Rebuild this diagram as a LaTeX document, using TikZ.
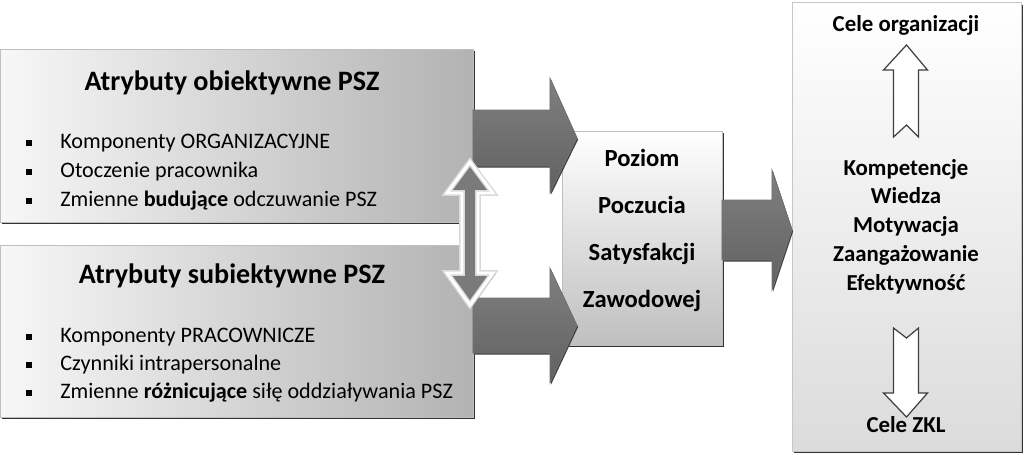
\documentclass[tikz,border=0pt]{standalone}
\usepackage{fontspec}
\setmainfont{Carlito}
\usetikzlibrary{calc,shadows}

\tikzset{
	boxshadow/.style={drop shadow={shadow xshift=0.9pt,shadow yshift=-1.4pt,fill=black!80,opacity=1}},
	attrbox/.style={draw=gray!50,rectangle,left color=gray!6,right color=gray!60,minimum width=9.46cm,outer sep=0cm,boxshadow},
	attrtitle/.style={anchor=base,inner sep=0pt,font=\bfseries\fontsize{16}{19}\selectfont},
	attritem/.style={anchor=base west,inner sep=0pt,font=\fontsize{12.6}{15}\selectfont},
	bulletsq/.style={fill=black,inner sep=0pt,minimum size=0.12cm},
	boldtext/.style={anchor=base,inner sep=0pt,font=\bfseries\fontsize{13}{16}\selectfont},
	fatarrow/.style={draw=black!55,top color=black!50,middle color=black!43,bottom color=black!62,drop shadow={shadow xshift=0.6pt,shadow yshift=-0.9pt,fill=black!75,opacity=1}},
	hollowarrow/.style={draw=black!75,fill=white,line width=0.7pt,line join=miter}
}

\begin{document}
\begin{tikzpicture}[x=0.02cm,y=-0.02cm]

	\useasboundingbox[fill=white] (0,0) rectangle (1024,454);

	% boxes
	\node[attrbox,minimum height=3.46cm] (obj)  at (236.5,135.5) {};
	\node[attrbox,minimum height=3.44cm] (subj) at (236.5,331)   {};
	\node[draw=gray!50,top color=white,bottom color=gray!50,minimum width=3.2cm,minimum height=4.28cm,outer sep=0cm,boxshadow] (poziom) at (642,238) {};
	\node[draw=gray!45,top color=white,bottom color=gray!28,minimum width=4.58cm,minimum height=8.98cm,outer sep=0cm,boxshadow] (cele) at (906.5,226.5) {};

	% texts of the left boxes
	\node[attrtitle] (objtitle)  at (232,90)  {Atrybuty obiektywne PSZ};
	\node[attrtitle] (subjtitle) at (232,283) {Atrybuty subiektywne PSZ};

	\node[attritem] (obj1) at (60,148) {Komponenty ORGANIZACYJNE};
	\node[attritem] (obj2) at (60,177) {Otoczenie pracownika};
	\node[attritem] (obj3) at (60,206) {Zmienne \textbf{budujące} odczuwanie PSZ};
	\node[attritem] (subj1) at (60,342) {Komponenty PRACOWNICZE};
	\node[attritem] (subj2) at (60,370) {Czynniki intrapersonalne};
	\node[attritem] (subj3) at (60,398) {Zmienne \textbf{różnicujące} siłę oddziaływania PSZ};

	\foreach \y in {143,172,201,337,365,393}
		\node[bulletsq] at (29,\y) {};

	% texts of the middle box
	\foreach \t [count=\i] in {Poziom,Poczucia,Satysfakcji,Zawodowej}
		\node[boldtext,font=\bfseries\fontsize{14}{16}\selectfont] (poz\i) at (642,{166+47*(\i-1)}) {\t};

	% texts of the right box
	\node[boldtext] (celeorg) at (906,31) {Cele organizacji};
	\foreach \t [count=\i] in {Kompetencje,Wiedza,Motywacja,Zaangażowanie,Efektywność}
		\node[boldtext] (kom\i) at (906,{175+28.75*(\i-1)}) {\t};
	\node[boldtext] (celezkl) at (906,432) {Cele ZKL};

	% fat arrows into the middle box and out of it
	\path[fatarrow] ($(obj.east)+(0,-25.5)$) -- ++(77,0) -- ++(0,-32) -- ($(poziom.west)+(15,-100)$)
		-- ++(-27,55) -- ++(0,-27) -- ($(obj.east)+(0,30.5)$) -- cycle;
	\path[fatarrow] ($(subj.east)+(0,-33)$) -- ++(77,0) -- ++(0,-30) -- ($(poziom.west)+(15,87.5)$)
		-- ++(-27,57.5) -- ++(0,-30) -- ($(subj.east)+(0,22)$) -- cycle;
	\path[fatarrow] ($(poziom.east)+(0,-38)$) -- ++(50,0) -- ++(0,-30) -- ($(cele.west)+(0,3.5)$)
		-- ++(-20,60) -- ++(0,-30) -- ($(poziom.east)+(0,22)$) -- cycle;

	% hollow arrows in the right box
	\draw[hollowarrow] (cele.center |- 0,45) -- ++(21,25) -- ++(-9,0) -- ++(0,67) -- ++(-12,-12)
		-- ++(-13,12) -- ++(0,-67) -- ++(-10,0) -- cycle;
	\draw[hollowarrow] (cele.center |- 0,417) -- ++(21,-24) -- ++(-9,0) -- ++(0,-65) -- ++(-12,10)
		-- ++(-13,-10) -- ++(0,65) -- ++(-10,0) -- cycle;

	% double arrow between the left boxes
	\path[draw=gray!30,line width=3.2pt,fill=black!52,drop shadow={shadow xshift=1.6pt,shadow yshift=-0.4pt,fill=black!80,opacity=1}]
		($(obj.south east)+(-3,-60)$) -- ++(23,31) -- ++(-15,0) -- ++(0,80) -- ++(15,0) -- ++(-23,32)
		-- ++(-23,-32) -- ++(15,0) -- ++(0,-80) -- ++(-15,0) -- cycle;
	\draw[white,line width=1.6pt,line join=miter]
		($(obj.south east)+(-3,-60)$) -- ++(23,31) -- ++(-15,0) -- ++(0,80) -- ++(15,0) -- ++(-23,32)
		-- ++(-23,-32) -- ++(15,0) -- ++(0,-80) -- ++(-15,0) -- cycle;

\end{tikzpicture}
\end{document}
